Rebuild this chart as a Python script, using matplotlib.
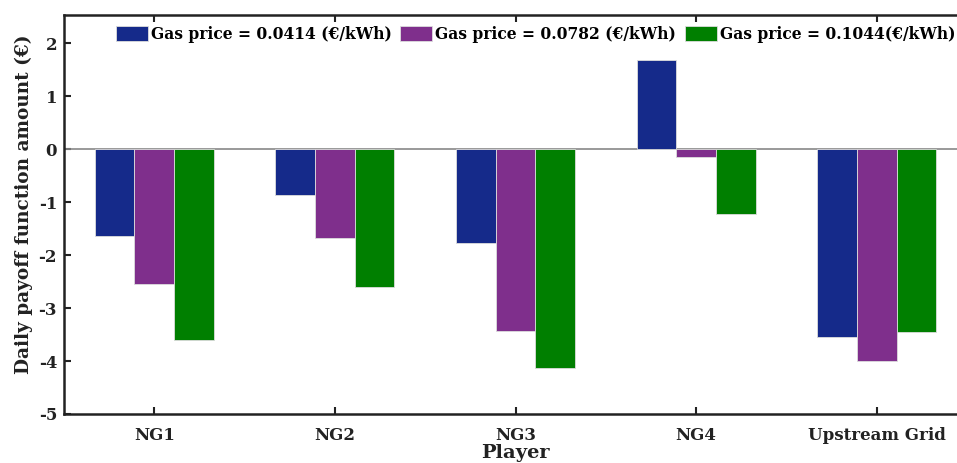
import numpy as np
import matplotlib
matplotlib.use('Agg')
import matplotlib.pyplot as plt

# categories and values
players = ['NG1', 'NG2', 'NG3', 'NG4', 'Upstream Grid']
series_labels = ['Gas price = 0.0414 (€/kWh)', 'Gas price = 0.0782 (€/kWh)', 'Gas price = 0.1044(€/kWh)']
payoff_low = [-1.64, -0.86, -1.77, 1.69, -3.55]
payoff_mid = [-2.55, -1.68, -3.43, -0.15, -4.00]
payoff_high = [-3.60, -2.60, -4.13, -1.22, -3.45]

colors = ['#152a8a', '#7f2f8c', '#007f00']

plt.rcParams['font.family'] = 'DejaVu Serif'
plt.rcParams['font.weight'] = 'bold'
plt.rcParams['axes.unicode_minus'] = False

fig = plt.figure(figsize=(9.57, 4.63), dpi=100)
ax = fig.add_axes([64 / 957, 1 - 414 / 463, (967 - 64) / 957, (414 - 15) / 463])

x = np.arange(1, len(players) + 1)
width = 0.22
for i, (vals, lab) in enumerate(zip([payoff_low, payoff_mid, payoff_high], series_labels)):
    ax.bar(x + (i - 1) * width, vals, width, color=colors[i], label=lab,
           edgecolor='#dddddd', linewidth=0.6, zorder=3)

ax.axhline(0, color='#888888', linewidth=1.2, zorder=2)

ax.set_xlim(0.5, 5.5)
ax.set_ylim(-5, 2.53)
ax.set_yticks(range(-5, 3))
ax.set_xticks(x)
ax.set_xticklabels(players)
ax.tick_params(axis='both', direction='in', labelsize=12, width=1.5, length=5, colors='#222222')
ax.tick_params(axis='x', top=True, pad=9)
ax.tick_params(axis='y', pad=5)
for sp in ax.spines.values():
    sp.set_linewidth(1.8)
    sp.set_color('#222222')

ax.set_ylabel('Daily payoff function amount (€)', fontsize=13.3, fontweight='bold', color='#222222')
ax.yaxis.set_label_coords(-0.034, 0.526)
ax.set_xlabel('Player', fontsize=14, fontweight='bold', color='#222222', labelpad=0.5)

ax.legend(loc='upper left', bbox_to_anchor=(116 / 957, 1 - 26 / 463), bbox_transform=fig.transFigure,
          ncol=3, frameon=False, fontsize=11.2, handlelength=2.05, handleheight=1.1,
          handletextpad=0.2, columnspacing=0.55, borderpad=0, borderaxespad=0)

fig.savefig('out.png', dpi=100)
